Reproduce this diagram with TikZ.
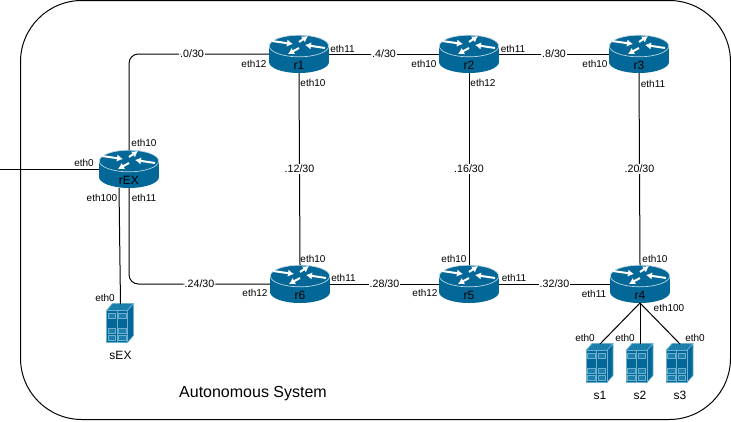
\documentclass[tikz,border=0pt]{standalone}
\usepackage{fontspec}
\setmainfont{Liberation Sans}
\usetikzlibrary{positioning,arrows.meta}
\tikzstyle{network} = [x = .75pt, y = -.75pt]
\definecolor{deviceBlue}{HTML}{036897}
\definecolor{deviceEdge}{HTML}{6FB0D0}
\definecolor{deviceTop}{HTML}{1A7FAB}
\tikzstyle{asBorder} = [color=black, line width=.75pt, rounded corners = 46pt]
\tikzstyle{link} = [color=black, line width=.75pt]
\tikzstyle{bendLink} = [link, rounded corners = 7pt]
\tikzstyle{netText} = [font=\fontsize{8}{9}\selectfont, fill=white, inner sep=.8pt]
\tikzstyle{portText} = [font=\fontsize{7.5}{9}\selectfont, inner sep=0pt]
\tikzstyle{deviceText} = [font=\fontsize{9}{10}\selectfont, inner sep=0pt]
\tikzstyle{routerBox} = [minimum width=45pt, minimum height=28.5pt, inner sep=0pt, outer sep=0pt]
\tikzstyle{serverBox} = [minimum width=20.25pt, minimum height=29.25pt, inner sep=0pt, outer sep=0pt]
\tikzstyle{routerArrow} = [color=white, line width=1.5pt, -{Latex[length=4.5pt, width=5.5pt]}]
\tikzstyle{serverFace} = [fill=deviceBlue, draw=deviceEdge, line width=.5pt, line join=round]
\newcommand{\router}[4]{
  \fill [deviceBlue] (#2, #3 + 8) ellipse [x radius=30, y radius=11];
  \fill [deviceBlue] (#2 - 30, #3 - 8) rectangle + (60,16);
  \filldraw [deviceBlue, draw=white!75!deviceBlue, line width=.5pt] (#2, #3 - 8) ellipse [x radius=29.7, y radius=10.8];
  \draw [routerArrow] (#2 - 27, #3 - 13) -- + (21,3);
  \draw [routerArrow] (#2, #3 - 12) -- + (9,-6);
  \draw [routerArrow] (#2 + 26, #3 - 6) -- + (-20,-3);
  \draw [routerArrow] (#2, #3 - 6) -- + (-11,6);
  \node [routerBox] (#1) at (#2,#3) {};
  \node [deviceText] (#1Text) at (#2, #3 + 11) {#4};
}
\newcommand{\server}[4]{
  \filldraw [serverFace, fill=deviceTop] (#2 - 14, #3 - 13) -- + (6,-7) -- + (27,-7) -- + (21,0) -- cycle;
  \filldraw [serverFace] (#2 + 7, #3 - 13) -- + (6,-7) -- + (6,25) -- + (0,32) -- cycle;
  \filldraw [serverFace] (#2 - 14, #3 - 13) rectangle + (21,32);
  \draw [serverFace] (#2 - 3.5, #3 - 13) -- + (0,32);
  \foreach \bay in {-10,5,12} {
    \draw [serverFace, fill=deviceTop] (#2 - 12.5, #3 + \bay) rectangle + (7.5,4.5);
    \draw [serverFace, fill=deviceTop] (#2 - 2, #3 + \bay) rectangle + (7.5,4.5);
  }
  \node [serverBox] (#1) at (#2,#3) {};
  \node [deviceText, below = 6pt of #1] (#1Text) {#4};
}

\begin{document}
\begin{tikzpicture}[network]
  \useasboundingbox (0,0) rectangle (731,421);
  \draw [asBorder] (20.5,0.5) rectangle (730.5,419.5);
  \node [font=\fontsize{12}{14}\selectfont, inner sep=0pt] (asName) at (253,394) {Autonomous System};

  \router{rEX}{129}{169}{rEX}
  \router{rOne}{299}{54}{r1}
  \router{rTwo}{469}{54}{r2}
  \router{rThree}{639}{54}{r3}
  \router{rSix}{300}{284}{r6}
  \router{rFive}{469}{284}{r5}
  \router{rFour}{640}{284}{r4}

  \server{sEX}{120.5}{323.5}{sEX}
  \server{sOne}{600}{363.5}{s1}
  \server{sTwo}{640}{363.5}{s2}
  \server{sThree}{680}{363.5}{s3}

  \coordinate (uplink) at (0,169);
  \draw [link] (uplink) -- (rEX.west);
  \draw [bendLink] (rEX.north) |- node [netText, pos=.725] (netZero) {.0/30} (rOne.west);
  \draw [bendLink] (rEX.south) |- node [netText, pos=.75] (netTwentyFour) {.24/30} (rSix.west);
  \draw [link] ([xshift=-7.5pt]rEX.south) -- (sEX.north);
  \draw [link] (rOne.east) -- node [netText] (netFour) {.4/30} (rTwo.west);
  \draw [link] (rTwo.east) -- node [netText] (netEight) {.8/30} (rThree.west);
  \draw [link] (rOne.south) -- node [netText] (netTwelve) {.12/30} (rSix.north);
  \draw [link] (rTwo.south) -- node [netText] (netSixteen) {.16/30} (rFive.north);
  \draw [link] (rThree.south) -- node [netText] (netTwenty) {.20/30} (rFour.north);
  \draw [link] (rSix.east) -- node [netText] (netTwentyEight) {.28/30} (rFive.west);
  \draw [link] (rFive.east) -- node [netText] (netThirtyTwo) {.32/30} (rFour.west);
  \foreach \host in {sOne,sTwo,sThree} {
    \draw [link] (rFour.south) -- (\host.north);
  }

  \foreach \portName/\portX/\portY/\portLabel in {
    pa/84/163/eth0, pb/144/143/eth10, pc/102/198/eth100, pd/144/198/eth11,
    pe/254/64/eth12, pf/342.5/49/eth11, pg/313/83/eth10,
    ph/424/64/eth10, pi/513/49/eth11, pj/483/83/eth12,
    pk/595/64/eth10, pl/653/84/eth11,
    pm/313/259/eth10, pn/255/293/eth12, po/343.5/278/eth11,
    pp/454/259/eth10, pq/425/293/eth12, pr/514/278/eth11,
    ps/655/259/eth10, pt/594/294/eth11, pu/669/308/eth100,
    pv/105/298/eth0, pw/585/338/eth0, px/625/338/eth0, py/695/338/eth0} {
    \node [portText] (\portName) at (\portX,\portY) {\portLabel};
  }
\end{tikzpicture}
\end{document}
